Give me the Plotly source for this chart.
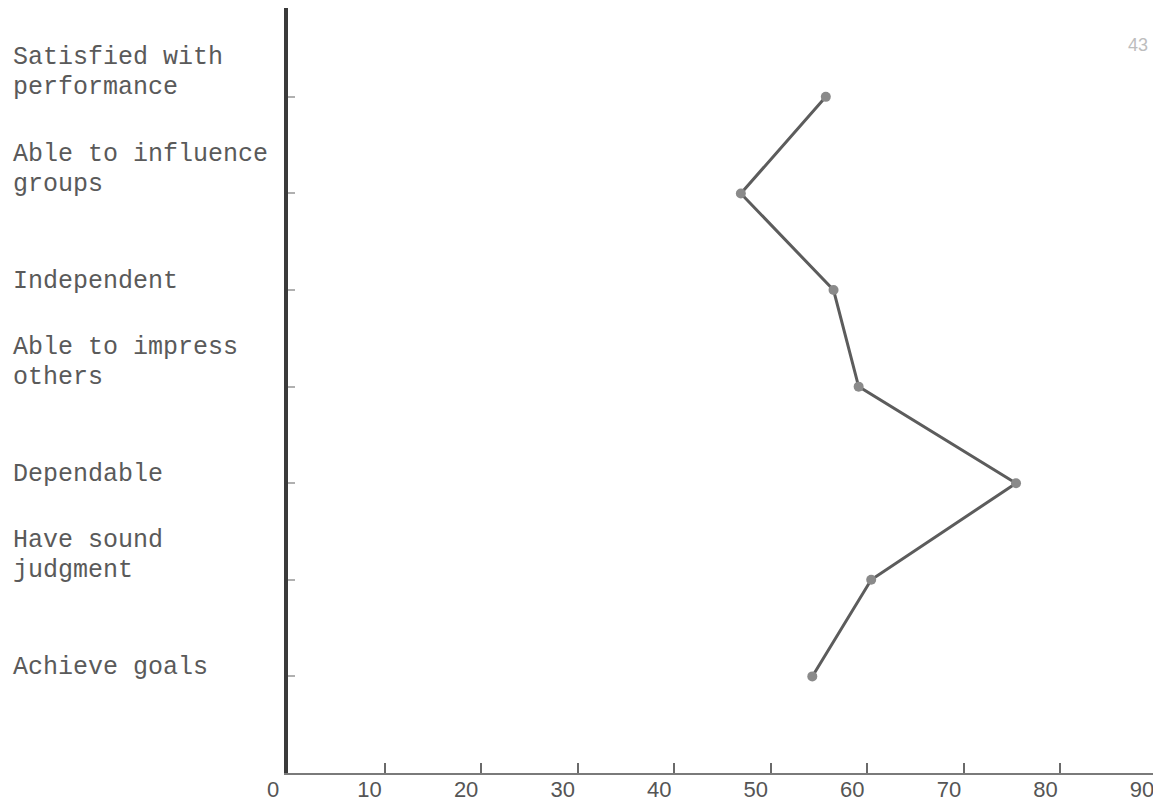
import plotly.graph_objects as go

# ---- data ----
categories = [
    "Satisfied with\nperformance",
    "Able to influence\ngroups",
    "Independent",
    "Able to impress\nothers",
    "Dependable",
    "Have sound\njudgment",
    "Achieve goals",
]
values = [55.7, 46.9, 56.5, 59.1, 75.4, 60.4, 54.3]
x_ticks = [0, 10, 20, 30, 40, 50, 60, 70, 80, 90]
x_tick_labels = ["0", "10", "20", "30", "40", "50", "60", "70", "80", "90"]
page_number = "43"

# the page body has an 8px default margin, so the figure is sized to fit inside
W, H = 1153, 796
M_L, M_R, M_T, M_B = 280, 4, 0, 31
PW = W - M_L - M_R

fig = go.Figure()
fig.add_trace(go.Scatter(
    x=values,
    y=list(range(len(categories))),
    mode="lines+markers",
    line=dict(color="#5c5c5c", width=3),
    marker=dict(color="#8a8a8a", size=10),
    showlegend=False,
    hoverinfo="skip",
))

# category labels (typewritten, left of the axis)
label_font = dict(family="Liberation Mono, Courier New, monospace", size=25, color="#5a5a5a")
annotations = []
for i, cat in enumerate(categories):
    lines = cat.split("\n")
    n = len(lines)
    for k, line in enumerate(lines):
        annotations.append(dict(
            x=-(M_L - 3) / PW, xref="paper",
            y=i, yref="y",
            text=line, showarrow=False,
            xanchor="left", yanchor="middle",
            yshift=9 + 30 * (n - 1 - k),
            font=label_font,
        ))

annotations.append(dict(
    x=0.978, xref="paper", y=0.952, yref="paper",
    text=page_number, showarrow=False,
    xanchor="center", yanchor="middle",
    font=dict(family="Liberation Sans, Arial, sans-serif", size=18, color="#bdbdbd"),
))

fig.update_layout(
    width=W, height=H,
    margin=dict(l=M_L, r=M_R, t=M_T, b=M_B, autoexpand=False),
    paper_bgcolor="white",
    plot_bgcolor="white",
    annotations=annotations,
    xaxis=dict(
        range=[0, 90],
        tickmode="array",
        tickvals=x_ticks,
        ticktext=x_tick_labels,
        ticks="inside",
        ticklen=10,
        tickwidth=1.5,
        tickcolor="#6a6a6a",
        showline=True,
        linecolor="#7a7a7a",
        linewidth=2,
        showgrid=False,
        zeroline=False,
        automargin=False,
        ticklabelshift=-15,
        ticklabelstandoff=-4,
        tickfont=dict(family="Liberation Sans, Arial, sans-serif", size=22, color="#555555"),
        fixedrange=True,
    ),
    yaxis=dict(
        range=[7.0, -0.92],
        tickmode="array",
        tickvals=list(range(len(categories))),
        ticktext=[""] * len(categories),
        ticks="inside",
        ticklen=7,
        tickwidth=1.5,
        tickcolor="#b0b0b0",
        showline=True,
        linecolor="#3a3a3a",
        linewidth=3.5,
        showgrid=False,
        zeroline=False,
        automargin=False,
        fixedrange=True,
    ),
)

fig.write_html("out.html")
